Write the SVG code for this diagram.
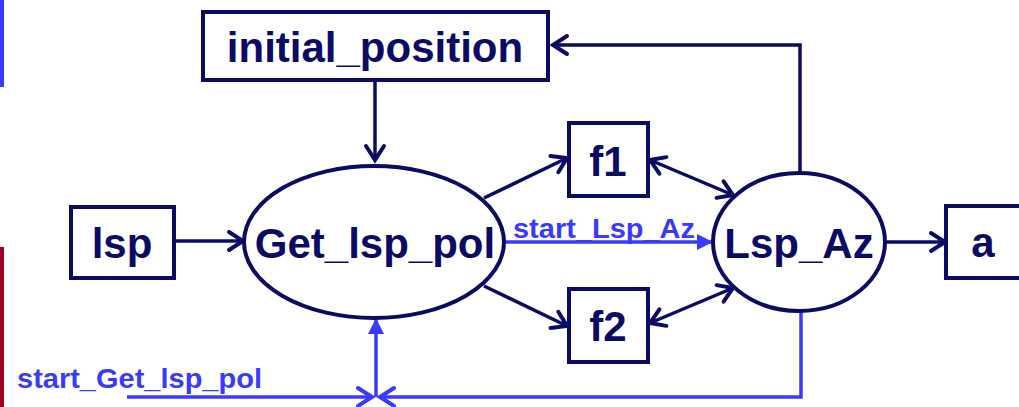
<svg xmlns="http://www.w3.org/2000/svg" width="1019" height="407" viewBox="0 0 1019 407">
  <style>
    .box { fill: #ffffff; stroke: #0b0b66; stroke-width: 4; }
    .node-label { font-family: "Liberation Sans", Arial, sans-serif; font-weight: bold; font-size: 42px; fill: #0b0b66; text-anchor: middle; }
    .sig-label { font-family: "Liberation Sans", Arial, sans-serif; font-weight: bold; font-size: 28px; fill: #3a3aff; }
    .flow { fill: none; stroke: #0b0b66; stroke-width: 3.5; }
    .sig { fill: none; stroke: #3a3aff; stroke-width: 3.5; }
  </style>
  <defs>
    <marker id="open-navy" markerUnits="userSpaceOnUse" markerWidth="30" markerHeight="30" viewBox="-20 -15 30 30" refX="0" refY="0" orient="auto-start-reverse" overflow="visible">
      <path d="M -14 -9 L 0 0 L -14 9" fill="none" stroke="#0b0b66" stroke-width="4" stroke-linecap="round" stroke-linejoin="miter"/>
    </marker>
    <marker id="open-blue" markerUnits="userSpaceOnUse" markerWidth="30" markerHeight="30" viewBox="-20 -15 30 30" refX="0" refY="0" orient="auto-start-reverse" overflow="visible">
      <path d="M -14 -9 L 0 0 L -14 9" fill="none" stroke="#3a3aff" stroke-width="4" stroke-linecap="round" stroke-linejoin="miter"/>
    </marker>
    <marker id="solid-blue" markerUnits="userSpaceOnUse" markerWidth="30" markerHeight="30" viewBox="-20 -15 30 30" refX="0" refY="0" orient="auto" overflow="visible">
      <path d="M -16 -8 L 0 0 L -16 8 Z" fill="#3a3aff" stroke="none"/>
    </marker>
  </defs>

  <!-- side bars -->
  <rect x="0" y="0" width="4" height="87" fill="#3a3aff"/>
  <rect x="0" y="247" width="4" height="160" fill="#a00028"/>

  <!-- connectors -->
  <g id="connectors">
    <line class="flow" x1="375" y1="80" x2="375" y2="160" marker-end="url(#open-navy)"/>
    <polyline class="flow" points="800,173 800,45 553,45" marker-end="url(#open-navy)"/>
    <line class="flow" x1="174" y1="241" x2="243" y2="241" marker-end="url(#open-navy)"/>
    <line class="flow" x1="484" y1="198" x2="567" y2="158" marker-end="url(#open-navy)"/>
    <line class="flow" x1="484" y1="286" x2="567" y2="326" marker-end="url(#open-navy)"/>
    <line class="flow" x1="650" y1="160" x2="733" y2="195" marker-start="url(#open-navy)" marker-end="url(#open-navy)"/>
    <line class="flow" x1="650" y1="323" x2="733" y2="288" marker-start="url(#open-navy)" marker-end="url(#open-navy)"/>
    <line class="flow" x1="885" y1="242" x2="945" y2="242" marker-end="url(#open-navy)"/>

    <line class="sig" x1="505" y1="242" x2="713" y2="242" marker-end="url(#solid-blue)"/>
    <polyline class="sig" points="801,310 801,397 380,397" marker-end="url(#open-blue)"/>
    <line class="sig" x1="127" y1="397" x2="372" y2="397" marker-end="url(#open-blue)"/>
    <line class="sig" x1="376" y1="397" x2="376" y2="318" marker-end="url(#solid-blue)"/>

    <text class="sig-label" x="513" y="238" textLength="182" lengthAdjust="spacingAndGlyphs">start_Lsp_Az</text>
    <text class="sig-label" x="17" y="388" textLength="245" lengthAdjust="spacingAndGlyphs">start_Get_lsp_pol</text>
  </g>

  <!-- nodes -->
  <g id="initial_position">
    <rect class="box" x="203" y="12" width="345" height="68"/>
    <text class="node-label" x="375" y="62">initial_position</text>
  </g>
  <g id="lsp">
    <rect class="box" x="71" y="207" width="103" height="71"/>
    <text class="node-label" x="122" y="258">lsp</text>
  </g>
  <g id="Get_lsp_pol">
    <ellipse class="box" cx="374" cy="242" rx="130" ry="76"/>
    <text class="node-label" x="375" y="258">Get_lsp_pol</text>
  </g>
  <g id="f1">
    <rect class="box" x="569" y="123" width="79" height="73"/>
    <text class="node-label" x="608" y="176">f1</text>
  </g>
  <g id="f2">
    <rect class="box" x="569" y="289" width="79" height="73"/>
    <text class="node-label" x="608" y="341">f2</text>
  </g>
  <g id="Lsp_Az">
    <ellipse class="box" cx="799" cy="242" rx="86" ry="69"/>
    <text class="node-label" x="799" y="258">Lsp_Az</text>
  </g>
  <g id="a">
    <rect class="box" x="946" y="206" width="76" height="72"/>
    <text class="node-label" x="983" y="257">a</text>
  </g>
</svg>
